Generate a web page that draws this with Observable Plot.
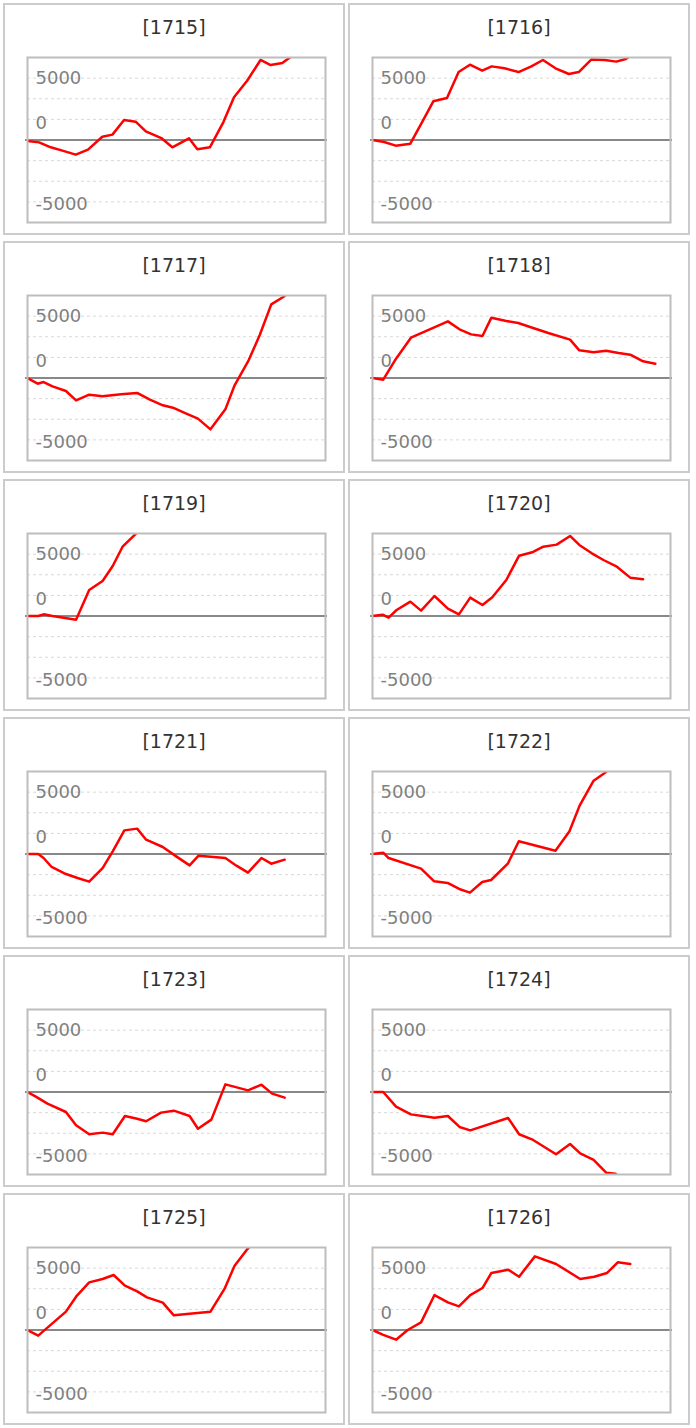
<!DOCTYPE html>
<html><head><meta charset="utf-8">
<script src="https://cdn.jsdelivr.net/npm/d3@7"></script>
<script src="https://cdn.jsdelivr.net/npm/@observablehq/plot@0.6"></script>
<style>
body{margin:0;background:#fff;font-family:"DejaVu Sans",sans-serif;}
#grid{display:grid;grid-template-columns:342px 342px;column-gap:3px;row-gap:6px;padding:3px 0 0 3px;}
.panel{box-sizing:border-box;width:342px;height:232px;border:2px solid #ccc;overflow:hidden;}
.title{height:44px;line-height:44px;text-align:center;font-size:19px;color:#333;}
</style></head><body><div id="grid"></div>
<script>
// Panel names
const names = ["1715","1716","1717","1718","1719","1720","1721","1722","1723","1724","1725","1726"];
// Axis labels and gridlines
const gridValues = [-6000,-4000,-2000,2000,4000,6000];
const labelPos = [6000,1600,-6200];
const labelText = ["5000","0","-5000"];

// Series (x = position along period, 0..100; y = value)
const xs1715 = [0,3.9,7.8,11.7,16.2,20.3,25.1,28.5,32.4,36.3,39.7,44.9,48.6,54.2,57.0,61.2,65.7,69.3,73.7,78.2,81.6,85.5,89.5];
const ys1715 = [-100,-230,-710,-1030,-1420,-940,320,520,1940,1780,840,190,-710,160,-900,-710,1710,4140,5750,7760,7270,7470,8300];
const xs1716 = [0,3.9,7.8,12.7,16.6,20.4,25.0,28.9,32.7,36.8,40.0,44.3,49.0,53.3,57.2,61.4,65.9,69.2,73.4,77.9,81.8,85.0,88.5];
const ys1716 = [0,-190,-550,-360,1710,3750,4070,6590,7300,6720,7140,6950,6590,7140,7760,6950,6400,6590,7800,7750,7600,7850,8600];
const xs1717 = [0,3.4,5.4,8.4,12.9,16.3,20.7,25.2,31.4,36.8,40.9,45.4,48.8,53.3,57.2,61.4,66.4,69.5,74.2,77.9,81.8,85.8,89];
const ys1717 = [0,-550,-390,-810,-1260,-2170,-1620,-1780,-1580,-1450,-2070,-2650,-2880,-3460,-3940,-4980,-3040,-710,1710,4140,7140,7850,8600];
const xs1718 = [0,3.6,7.9,12.9,25.3,29.2,33.1,36.9,39.9,44.9,48.9,53.9,59.0,66.3,69.4,74.2,78.4,82.6,86.5,90.8,94.9];
const ys1718 = [0,-160,1870,3910,5490,4720,4230,4070,5850,5530,5330,4850,4360,3720,2680,2490,2650,2420,2260,1620,1390];
const xs1719 = [0,3.6,5.4,8.4,16.3,20.7,25.2,28.6,31.9,35.9,39];
const ys1719 = [0,0,160,0,-360,2520,3390,4850,6720,7850,8700];
const xs1720 = [0,3.4,5.4,8.1,12.7,16.3,20.8,25.3,29.0,32.8,36.9,40.2,44.9,49.2,53.9,57.3,61.8,66.3,69.4,73.6,77.5,82.0,86.5,90.8];
const ys1720 = [0,130,-160,580,1390,520,1940,710,160,1780,1070,1810,3490,5850,6210,6720,6920,7760,6890,6080,5430,4780,3720,3560];
const xs1721 = [0,3.6,5.4,8.1,12.9,16.8,20.7,25.2,28.6,32.5,36.8,39.8,45.4,49.9,54.4,57.4,66.4,70.1,74.0,78.5,81.8,86.3];
const ys1721 = [0,0,-390,-1260,-1940,-2330,-2680,-1360,260,2290,2460,1390,680,-230,-1100,-160,-390,-1130,-1810,-390,-940,-550];
const xs1722 = [0,3.6,5.4,16.3,20.7,25.2,29.1,32.7,36.8,39.8,45.4,49.1,61.4,66.1,69.5,74.2,77.9,81];
const ys1722 = [0,130,-390,-1420,-2650,-2810,-3390,-3750,-2710,-2520,-940,1230,320,2200,4690,7110,7850,8600];
const xs1723 = [0,2.8,6.7,12.9,16.3,20.7,25.2,28.6,32.7,36.8,39.8,44.8,49.1,54.4,57.2,61.7,66.4,74.0,78.5,82.1,86.3];
const ys1723 = [0,-450,-1130,-1940,-3230,-4100,-3940,-4100,-2330,-2590,-2840,-2000,-1810,-2330,-3560,-2680,740,160,710,-160,-550];
const xs1724 = [0,3.6,7.9,12.9,20.8,25.3,29.2,32.8,45.5,49.2,53.9,61.6,66.3,69.7,74.2,78.4,81.5,84];
const ys1724 = [0,0,-1420,-2170,-2490,-2330,-3390,-3720,-2520,-4100,-4650,-6040,-5040,-5950,-6590,-7820,-7920,-8600];
const xs1725 = [0,3.6,12.9,16.3,20.7,25.2,28.9,32.7,36.8,40.1,45.4,49.1,61.4,66.1,69.5,73.8,77];
const ys1725 = [0,-550,1780,3230,4620,4950,5330,4300,3750,3170,2650,1420,1780,3980,6240,7850,8800];
const xs1726 = [0,3.6,7.9,11.8,16.3,20.8,25.3,29.0,32.8,36.9,39.9,45.5,49.2,54.5,61.6,69.7,74.4,78.7,82.3,86.5];
const ys1726 = [0,-480,-940,0,740,3390,2680,2290,3390,4070,5530,5850,5170,7140,6400,4950,5170,5530,6560,6400];

const xsAll = [xs1715,xs1716,xs1717,xs1718,xs1719,xs1720,xs1721,xs1722,xs1723,xs1724,xs1725,xs1726];
const ysAll = [ys1715,ys1716,ys1717,ys1718,ys1719,ys1720,ys1721,ys1722,ys1723,ys1724,ys1725,ys1726];

const grid = document.getElementById("grid");
names.forEach((name, k) => {
  const panel = document.createElement("div");
  panel.className = "panel";
  const title = document.createElement("div");
  title.className = "title";
  title.textContent = "[" + name + "]";
  panel.appendChild(title);
  const xs = xsAll[k], ys = ysAll[k];
  const chart = Plot.plot({
    width: 338, height: 184,
    marginLeft: 22, marginRight: 18, marginTop: 8, marginBottom: 11,
    x: {domain: [0, 100], axis: null},
    y: {domain: [-8000, 8000], axis: null},
    style: {fontFamily: "DejaVu Sans", background: "transparent"},
    marks: [
      Plot.ruleY(gridValues, {stroke: "#d8d8d8", strokeDasharray: "3,3", strokeWidth: 1}),
      Plot.text(labelText, {frameAnchor: "left", y: labelPos, text: labelText, dx: 8, textAnchor: "start", fill: "#808080", fontSize: 18}),
      Plot.ruleY([0], {stroke: "#888", strokeWidth: 2, insetLeft: -2, insetRight: -2}),
      Plot.line(xs, {x: xs, y: ys, stroke: "#ff0000", strokeWidth: 2.5, clip: true}),
      Plot.frame({stroke: "#bdbdbd", strokeWidth: 2})
    ]
  });
  panel.appendChild(chart);
  grid.appendChild(panel);
});
</script></body></html>
